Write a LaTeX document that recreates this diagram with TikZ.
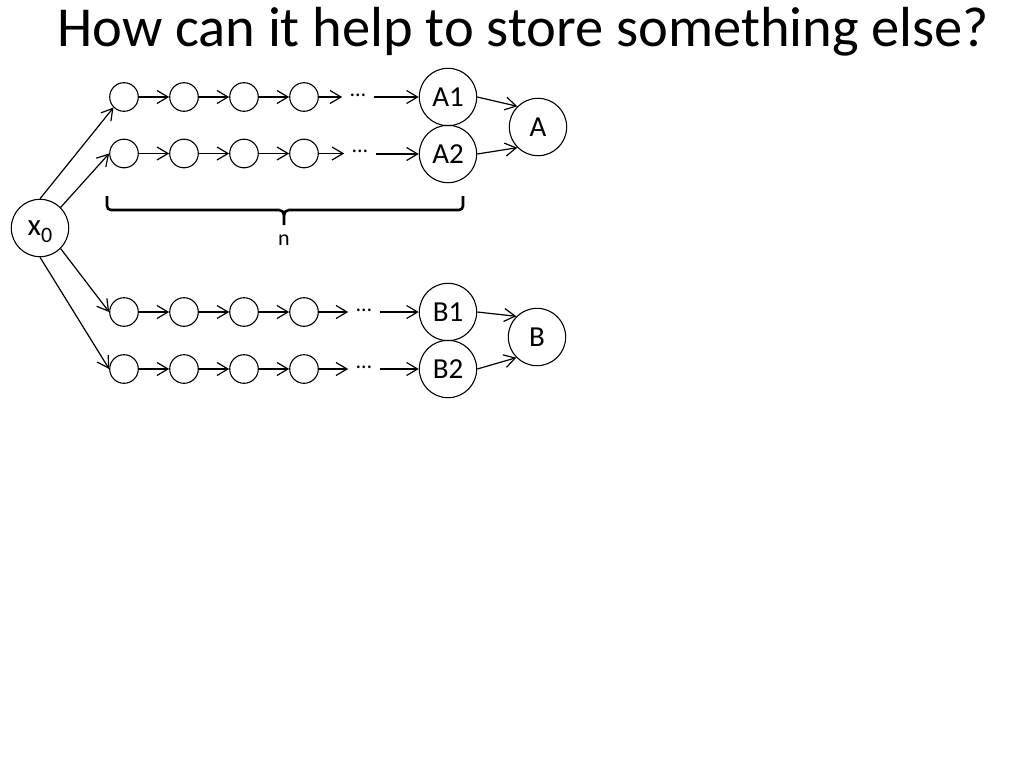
\documentclass[tikz,border=0pt]{standalone}
\usepackage{fontspec}
\setmainfont{Carlito}
\usetikzlibrary{arrows.meta}
\tikzset{
  sc/.style={circle,draw,line width=1.1pt,minimum size=28.6pt,inner sep=0pt},
  bc/.style={circle,draw,line width=1.1pt,minimum size=57.4pt,inner sep=0pt,font=\fontsize{29}{32}\selectfont},
  dotsn/.style={inner xsep=8pt,inner ysep=0pt,font=\fontsize{22}{22}\selectfont},
  ar/.style={line width=1.2pt,-{Straight Barb[length=11pt,width=13pt,line width=1.2pt]}},
}
\begin{document}
\begin{tikzpicture}[x=1pt,y=-1pt]
\useasboundingbox (0,0) rectangle (1024,768);
\node[anchor=base west,inner sep=0pt,font=\fontsize{56.5}{60}\selectfont] (title) at (57,46) {How can it help to store something else?};

\node[bc,text depth=0pt,text height=14pt] (x0) at (40,228) {\fontsize{31}{32}\selectfont x\raisebox{-0.25em}{\fontsize{22}{22}\selectfont 0}};

\foreach \r/\y/\dx in {1/97/358, 2/153.5/360, 3/312/364, 4/369/364} {
  \node[sc] (c\r1) at (124,\y) {};
  \node[sc] (c\r2) at (184,\y) {};
  \node[sc] (c\r3) at (244,\y) {};
  \node[sc] (c\r4) at (304,\y) {};
  \node[dotsn] (d\r) at (\dx,\y-2) {…};
  \draw[ar] (c\r1) -- (c\r2);
  \draw[ar] (c\r2) -- (c\r3);
  \draw[ar] (c\r3) -- (c\r4);
}

\node[bc] (A1) at (448,97) {A1};
\node[bc] (A2) at (448,154) {A2};
\node[bc] (A) at (538,127) {A};
\node[bc] (B1) at (448,312) {B1};
\node[bc] (B2) at (448,369) {B2};
\node[bc] (B) at (537,337) {B};

\draw[ar] (c14.east) -- (d1.west |- c14.east);
\draw[ar] (d1.east |- A1.west) -- (A1.west);
\draw[ar] (c24.east) -- (d2.west |- c24.east);
\draw[ar] (d2.east |- A2.west) -- (A2.west);
\draw[ar] (c34.east) -- (d3.west |- c34.east);
\draw[ar] (d3.east |- B1.west) -- (B1.west);
\draw[ar] (c44.east) -- (d4.west |- c44.east);
\draw[ar] (d4.east |- B2.west) -- (B2.west);

\draw[ar] (A1.east) -- (A.135);
\draw[ar] (A2.east) -- (A.225);
\draw[ar] (B1.east) -- (B.135);
\draw[ar] (B2.east) -- (B.225);

\draw[ar] (x0.north) -- (c11.south west);
\draw[ar] (x0.north east) -- (c21.west);
\draw[ar] (x0.south east) -- (c31.west);
\draw[ar] (x0.south) -- (c41.west);

% brace
\coordinate (bl) at (107,196);
\coordinate (br) at (463,196);
\coordinate (bm) at (284,225);
\draw[line width=2.6pt,line cap=butt]
  (bl) -- (107,206) to[out=-90,in=180] (111,210) -- (279,210)
  to[out=0,in=90] (284,215) -- (bm);
\draw[line width=2.6pt]
  (br) -- (463,206) to[out=-90,in=0] (459,210) -- (289,210)
  to[out=180,in=90] (284,215);
\node[font=\fontsize{22}{22}\selectfont,inner sep=0pt] (n) at (284,240) {n};
\end{tikzpicture}
\end{document}
